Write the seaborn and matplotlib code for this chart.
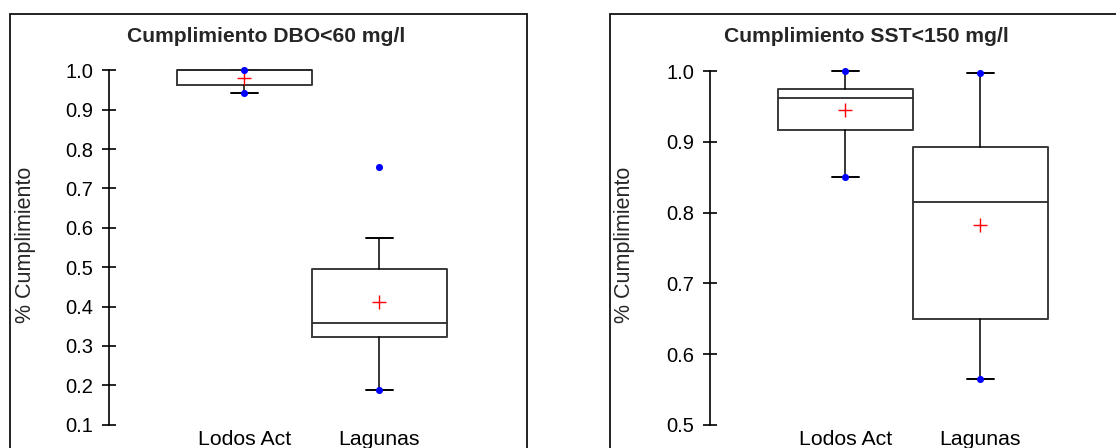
import matplotlib
matplotlib.use("Agg")
import matplotlib.pyplot as plt
import seaborn as sns
import pandas as pd
from matplotlib.patches import Rectangle

# ---------------- data ----------------
categories = ["Lodos Act", "Lagunas"]

dbo_title = "Cumplimiento DBO<60 mg/l"
dbo_whislo = [0.943, 0.189]
dbo_q1 = [0.962, 0.323]
dbo_med = [1.000, 0.358]
dbo_q3 = [1.000, 0.496]
dbo_whishi = [1.000, 0.575]
dbo_mean = [0.981, 0.411]
dbo_min = [0.943, 0.189]
dbo_max = [1.000, 0.754]
dbo_yticks = [0.1, 0.2, 0.3, 0.4, 0.5, 0.6, 0.7, 0.8, 0.9, 1.0]

sst_title = "Cumplimiento SST<150 mg/l"
sst_whislo = [0.851, 0.565]
sst_q1 = [0.917, 0.649]
sst_med = [0.962, 0.815]
sst_q3 = [0.975, 0.893]
sst_whishi = [1.000, 0.998]
sst_mean = [0.945, 0.783]
sst_min = [0.851, 0.565]
sst_max = [1.000, 0.998]
sst_yticks = [0.5, 0.6, 0.7, 0.8, 0.9, 1.0]

ylabel = "% Cumplimiento"

# ---------------- style ----------------
sns.set_theme(style="white")
plt.rcParams["font.family"] = ["Liberation Sans", "DejaVu Sans"]

W, H = 1116, 448
fig = plt.figure(figsize=(W / 100, H / 100), dpi=100)


def px_axes(left, top, right, bottom):
    return fig.add_axes([left / W, 1 - bottom / H, (right - left) / W, (bottom - top) / H])


def panel(ax, title, whislo, q1, med, q3, whishi, mean, vmin, vmax, yticks, title_x, label_x):
    stats = []
    for i, c in enumerate(categories):
        stats.append(dict(label=c, whislo=whislo[i], q1=q1[i], med=med[i],
                          q3=q3[i], whishi=whishi[i], fliers=[]))
    pos = list(range(len(categories)))
    art = ax.bxp(stats, positions=pos, widths=1.0, showfliers=False,
                 capwidths=0.2, manage_ticks=False,
                 boxprops=dict(color="#3a3a3a", lw=1.4),
                 whiskerprops=dict(color="black", lw=1.1),
                 capprops=dict(color="black", lw=1.4),
                 medianprops=dict(color="#2a2a2a", lw=1.3))
    for key in art:
        for a in art[key]:
            a.set_clip_on(False)

    mean_df = pd.DataFrame({"x": pos, "y": mean})
    sns.scatterplot(data=mean_df, x="x", y="y", ax=ax, marker="+", color="red",
                    s=100, linewidth=1.0, clip_on=False, zorder=5, legend=False)
    pts = pd.DataFrame({"x": pos + pos, "y": list(vmin) + list(vmax)})
    sns.scatterplot(data=pts, x="x", y="y", ax=ax, marker="o", color="blue",
                    s=26, linewidth=0, clip_on=False, zorder=6, legend=False)

    ax.set_xlim(-1, 2)
    ax.set_ylim(yticks[0], yticks[-1])
    ax.set_yticks(yticks)
    ax.set_yticklabels([f"{t:.1f}" for t in yticks])
    ax.set_xticks(pos)
    ax.set_xticklabels(categories)
    ax.set_xlabel("")
    ax.set_ylabel(ylabel, fontsize=15.5)
    ax.yaxis.set_label_coords(label_x, 0.508)
    for s in ["top", "right", "bottom"]:
        ax.spines[s].set_visible(False)
    ax.spines["left"].set_color("black")
    ax.spines["left"].set_linewidth(1.2)
    ax.tick_params(axis="y", direction="inout", length=9.4, width=1.2,
                   labelsize=14.5, pad=6.9, left=True, colors="black")
    ax.tick_params(axis="x", length=0, labelsize=15.3, pad=3.5, colors="black")
    ax.patch.set_alpha(0)
    fig.text(title_x / W, 1 - 41.7 / H, title, ha="center", va="baseline",
             fontsize=15.2, fontweight="bold")


# frames
fig.patches.append(Rectangle((10 / W, -0.2), (527.3 - 10) / W, 1.2 - 14 / H,
                             transform=fig.transFigure, fill=False,
                             edgecolor="#111111", lw=1.3))
fig.patches.append(Rectangle((610 / W, -0.2), 1.0, 1.2 - 14 / H,
                             transform=fig.transFigure, fill=False,
                             edgecolor="#111111", lw=1.3))

ax1 = px_axes(109.3, 70.3, 514.3, 424.7)
panel(ax1, dbo_title, dbo_whislo, dbo_q1, dbo_med, dbo_q3, dbo_whishi,
      dbo_mean, dbo_min, dbo_max, dbo_yticks, 266, -0.1817)

ax2 = px_axes(710.3, 71.3, 1115.3, 424.7)
panel(ax2, sst_title, sst_whislo, sst_q1, sst_med, sst_q3, sst_whishi,
      sst_mean, sst_min, sst_max, sst_yticks, 866, -0.185)

fig.savefig("out.png", dpi=100)
